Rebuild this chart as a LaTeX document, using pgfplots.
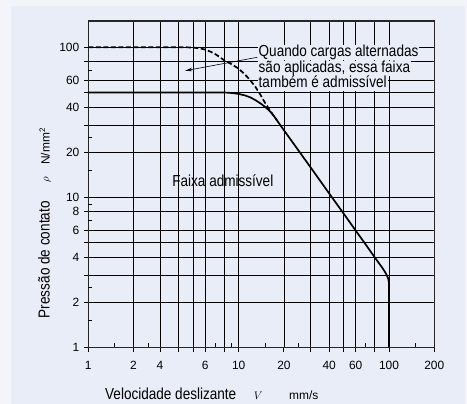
\documentclass[border=0pt]{standalone}
\usepackage{pgfplots}
\pgfplotsset{compat=1.18}
\usepackage{fontspec}
\setmainfont{Liberation Sans}
\newfontfamily\cond[FakeStretch=0.85]{Liberation Sans}
\usetikzlibrary{arrows.meta}
\definecolor{panel}{RGB}{233,237,248}
\definecolor{outer}{RGB}{244,245,251}
\begin{document}
\begin{tikzpicture}
\fill[outer] (0,0) rectangle (467bp,-404bp);
\fill[panel] (11bp,-6bp) rectangle (465bp,-404bp);
\begin{axis}[
  at={(88.3bp,-347.3bp)}, anchor=south west,
  scale only axis, width=346bp, height=326.4bp,
  xmode=log, ymode=log,
  xmin=1, xmax=200, ymin=1, ymax=150,
  /pgf/number format/assume math mode=true,
  axis line style={line width=1.4pt, black!85},
  xtick={1,2,3,4,5,6,8,10,20,30,40,50,60,80,100,200},
  xticklabels={1,2,4,{},{},6,{},10,20,{},40,{},60,{},100,200},
  ytick={1,2,3,4,5,6,8,10,20,30,40,50,60,80,100},
  yticklabels={1,2,{},4,{},6,8,10,20,{},40,{},60,{},100},
  minor xtick={}, minor ytick={},
  grid=major,
  major grid style={line width=0.75pt, black},
  tick align=outside, major tick length=4.5bp, tick pos=left,
  tick style={line width=0.9pt, black},
  extra x ticks={1.5,2.5,7,9,15,25,70,150},
  extra x tick labels={},
  extra x tick style={grid=none, tick align=inside, major tick length=4bp},
  extra y ticks={1.5,2.5,7,9,15,25,70},
  extra y tick labels={},
  extra y tick style={grid=none, tick align=inside, major tick length=4bp},
  tick label style={font=\fontsize{12}{12}\selectfont},
  xticklabel style={yshift=-6bp},
  yticklabel style={xshift=-1bp},
]
\addplot[black, line width=1.7pt] coordinates {
(1,50)(8,50)(9,49.6)(10,48.9)(11,47.8)(12,46.3)(13,44.3)(14,42.2)(15,40.0)(16,37.8)(17,35.3)(18,32.5)(20,28)(30,15.9)(40,10.6)(50,7.77)(60,6.0)(70,4.84)(80,4.0)(85,3.68)(90,3.4)(94,3.18)(97,3.0)(99,2.85)(100,2.65)(100,1)
};
\addplot[black, line width=1.7pt, dash pattern=on 5bp off 2.5bp] coordinates {
(1,100)(4.5,100)(5,99.5)(5.5,98.5)(6,96.5)(6.5,93.5)(7,90)(7.5,86)(8,82)(9,77)(10,72)(11,66)(12,60)(13,54)(14,48)(15,42.5)(16,38.5)(17,35.2)(18,32.5)
};
\draw[-{Stealth[length=7bp,width=3.5bp]}, line width=0.6pt] (axis cs:13.3,85.8) -- (axis cs:4.41,69.8);
\node[font=\cond\fontsize{16}{16}\selectfont] at (axis cs:7.85,13) {Faixa admissível};
\end{axis}
\begin{scope}[every node/.style={font=\cond\fontsize{16}{16}\selectfont, fill=panel, inner xsep=1bp, inner ysep=0pt, text height=11.8bp, text depth=3.7bp, anchor=base west}]
\node at (257.5bp,-56.7bp) {Quando cargas alternadas};
\node at (257.5bp,-72.3bp) {são aplicadas, essa faixa};
\node at (257.5bp,-87.7bp) {também é admissível};
\end{scope}
\node[rotate=90, anchor=base west, inner sep=0pt, font=\cond\fontsize{16}{16}\selectfont] at (49.5bp,-318.3bp) {Pressão de contato};
\node[rotate=90, anchor=base, inner sep=0pt, font=\fontsize{11}{11}\selectfont] at (48.5bp,-179.3bp) {$\rho$};
\node[rotate=90, anchor=base west, inner sep=0pt, font=\fontsize{12}{12}\selectfont] at (49.5bp,-165bp) {N/mm\textsuperscript{2}};
\node[anchor=base west, inner sep=0pt, font=\cond\fontsize{16}{16}\selectfont] at (105bp,-399.5bp) {Velocidade deslizante};
\node[anchor=base, inner sep=0pt, font=\fontsize{11}{11}\selectfont] at (258.3bp,-399.5bp) {$V$};
\node[anchor=base west, inner sep=0pt, font=\fontsize{12}{12}\selectfont] at (289bp,-399.5bp) {mm/s};
\pgfresetboundingbox
\useasboundingbox (0,0) rectangle (467bp,-404bp);
\end{tikzpicture}
\end{document}
